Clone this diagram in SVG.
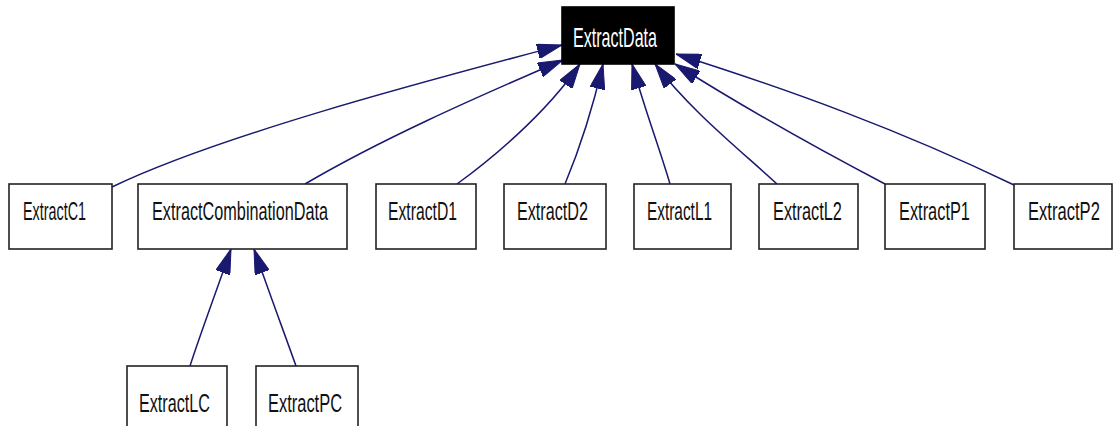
<svg xmlns="http://www.w3.org/2000/svg" width="1116" height="426" viewBox="0 0 1116 426">
  <style>
    .box { fill: #ffffff; stroke: #222222; stroke-width: 1.6; }
    .root { fill: #000000; stroke: #000000; stroke-width: 1.6; }
    .label { font-family: "Liberation Sans", Arial, sans-serif; font-size: 25px; fill: #111111; }
    .rootlabel { font-family: "Liberation Sans", Arial, sans-serif; font-size: 27px; fill: #ffffff; }
    .edge { fill: none; stroke: #191970; stroke-width: 1.5; marker-end: url(#inherit); }
  </style>
  <defs>
    <marker id="inherit" markerUnits="userSpaceOnUse" viewBox="0 0 25 15" markerWidth="25" markerHeight="15" refX="25" refY="7.5" orient="auto">
      <path d="M0,0 L25,7.5 L0,15 z" fill="#191970" stroke="#191970" stroke-width="1"/>
    </marker>
  </defs>

  <!-- inheritance edges, each ending on the parent box -->
  <g id="edges">
    <path class="edge" d="M112,187 C220,135 430,80 562,45"/>
    <path class="edge" d="M305,184 C380,140 470,100 563,60"/>
    <path class="edge" d="M457,184 C490,160 545,115 580,64"/>
    <path class="edge" d="M565,184 C575,160 590,120 603,64"/>
    <path class="edge" d="M670,184 C660,150 645,110 632,64"/>
    <path class="edge" d="M777,184 C740,150 690,110 655,64"/>
    <path class="edge" d="M885,184 C820,150 740,105 675,64"/>
    <path class="edge" d="M1014,185 C900,130 790,90 676,54"/>
    <path class="edge" d="M190,366 C200,335 215,295 231,249"/>
    <path class="edge" d="M296,366 C285,335 270,295 254,249"/>
  </g>

  <g id="ExtractData">
    <rect class="root" x="562" y="7" width="112" height="57"/>
    <text class="rootlabel" transform="translate(573,47) scale(0.596,1)">ExtractData</text>
  </g>

  <g id="ExtractC1">
    <rect class="box" x="9" y="184" width="103" height="65"/>
    <text class="label" transform="translate(23,220) scale(0.574,1)">ExtractC1</text>
  </g>

  <g id="ExtractCombinationData">
    <rect class="box" x="138" y="184" width="209" height="65"/>
    <text class="label" transform="translate(152,220) scale(0.65,1)">ExtractCombinationData</text>
  </g>

  <g id="ExtractD1">
    <rect class="box" x="376" y="184" width="100" height="65"/>
    <text class="label" transform="translate(388,220) scale(0.629,1)">ExtractD1</text>
  </g>

  <g id="ExtractD2">
    <rect class="box" x="504" y="184" width="102" height="65"/>
    <text class="label" transform="translate(517,220) scale(0.647,1)">ExtractD2</text>
  </g>

  <g id="ExtractL1">
    <rect class="box" x="634" y="184" width="97" height="65"/>
    <text class="label" transform="translate(647,220) scale(0.616,1)">ExtractL1</text>
  </g>

  <g id="ExtractL2">
    <rect class="box" x="759" y="184" width="99" height="65"/>
    <text class="label" transform="translate(773,220) scale(0.653,1)">ExtractL2</text>
  </g>

  <g id="ExtractP1">
    <rect class="box" x="885" y="184" width="100" height="65"/>
    <text class="label" transform="translate(899,220) scale(0.655,1)">ExtractP1</text>
  </g>

  <g id="ExtractP2">
    <rect class="box" x="1014" y="184" width="98" height="65"/>
    <text class="label" transform="translate(1028,220) scale(0.664,1)">ExtractP2</text>
  </g>

  <g id="ExtractLC">
    <rect class="box" x="127" y="366" width="100" height="66"/>
    <text class="label" transform="translate(139,412) scale(0.647,1)">ExtractLC</text>
  </g>

  <g id="ExtractPC">
    <rect class="box" x="256" y="366" width="102" height="66"/>
    <text class="label" transform="translate(268,412) scale(0.658,1)">ExtractPC</text>
  </g>
</svg>
